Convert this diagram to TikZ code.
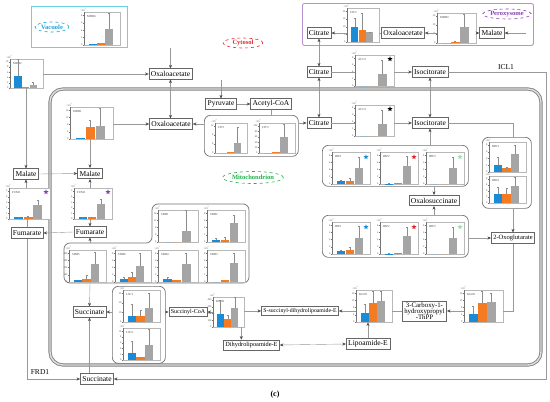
\documentclass[tikz,border=0pt]{standalone}
\usepackage{fontspec}
\setmainfont{Liberation Serif}
\usetikzlibrary{arrows.meta,calc,shapes.geometric}
\definecolor{bblue}{HTML}{1B8BD6}
\definecolor{borange}{HTML}{F47B22}
\definecolor{bgray}{HTML}{A5A5A5}
\definecolor{vacc}{HTML}{6CCFEA}
\definecolor{vact}{HTML}{1AA3D6}
\definecolor{perc}{HTML}{B792D2}
\definecolor{pert}{HTML}{8A3FB3}
\definecolor{cytt}{HTML}{E8262A}
\definecolor{mitt}{HTML}{1FB34A}
\newcommand{\myfs}[1]{\fontsize{#1}{#1}\selectfont}
\tikzset{
  met/.style={draw=black!60, fill=white, line width=0.55pt, inner xsep=2pt, inner ysep=1pt, minimum height=10.5pt, font=\myfs{7.5}},
  conn/.style={draw=black!40, line width=0.4pt},
  arr/.style={conn, -{Stealth[length=3.6pt,width=3pt,color=black!70]}},
  darr/.style={conn, {Stealth[length=3.6pt,width=3pt,color=black!70]}-{Stealth[length=3.6pt,width=3pt,color=black!70]}},
  grp/.style={draw=black!55, line width=0.7pt, rounded corners=6pt, inner sep=0},
  chartframe/.style={draw=black!28, fill=white, line width=0.35pt, inner sep=0},
  axisline/.style={draw=black!55, line width=0.25pt},
  ticklab/.style={font=\myfs{2.6}, inner sep=0.3pt, text=black!70},
  chartlab/.style={font=\myfs{3}, inner sep=0, text=black!75},
  cmp/.style={ellipse, dashed, line width=0.6pt, inner sep=0.5pt, font=\bfseries\myfs{6.5}},
  starn/.style={star, star points=5, star point ratio=2.4, inner sep=0, minimum size=5.5pt},
}
% name, x, y (top-left of plot), w, h, label, bars b/e list, tick labels, intervals
\newcommand{\mychart}[9]{%
  \node[chartframe, minimum width=#4pt, minimum height=#5pt, anchor=north west] (#1) at (#2,#3) {};
  \begin{scope}[shift={(#2,{#3+#5})}]
    \draw[axisline] (0,0) -- (0,{-#5});
    \foreach \t [count=\j] in {#8} {
      \pgfmathsetmacro\ty{-(\j-1)/#9*0.9*#5}
      \draw[axisline] (0,\ty) -- (-1,\ty);
      \node[ticklab, anchor=east] (#1t\j) at (-1,\ty) {\t};
    }
    \node[ticklab, anchor=south west] (#1x) at (-4,{-#5-0.3}) {×10\textsuperscript{3}};
    \node[chartlab, anchor=north west] (#1l) at (3,{-#5+3}) {#6};
    \foreach \b/\e [count=\i] in {#7} {
      \pgfmathsetmacro\xl{(0.13+0.232*(\i-1))*#4}
      \pgfmathsetmacro\xr{\xl+0.222*#4}
      \pgfmathsetmacro\xm{\xl+0.111*#4}
      \ifcase\i\or\def\bc{bblue}\or\def\bc{borange}\else\def\bc{bgray}\fi
      \fill[\bc] (\xl,0) rectangle (\xr,{-\b*#5});
      \pgfmathtruncatemacro\hasE{\e>\b+0.001}
      \ifnum\hasE=1
        \draw[black!45, line width=0.3pt] (\xm,{-\b*#5}) -- (\xm,{-\e*#5}) ++(-1,0) -- ++(2,0);
      \fi
    }
  \end{scope}
}
\begin{document}
\begin{tikzpicture}[x=1pt,y=-1pt]
\useasboundingbox (0,0) rectangle (550,402);
\fill[white] (0,0) rectangle (550,402);

% compartments
\node[draw=vacc, line width=1pt, minimum width=96pt, minimum height=41pt, anchor=north west, inner sep=0] (vacbox) at (31,6) {};
\node[draw=perc, line width=0.9pt, rounded corners=2pt, minimum width=231pt, minimum height=42pt, anchor=north west, inner sep=0] (perbox) at (302,3) {};
\draw[draw=black!50, line width=0.9pt, double=black!12, double distance=1.4pt, rounded corners=13pt] (50,89) rectangle (541,365);

\node[cmp, draw=vact, text=vact, minimum width=34pt, minimum height=10pt] (vacl) at (52,27) {Vacuole};
\node[cmp, draw=cytt, text=cytt, minimum width=40pt, minimum height=10pt] (cytl) at (243,43) {Cytosol};
\node[cmp, draw=pert, text=pert, minimum width=47pt, minimum height=10pt] (perl) at (507,14) {Peroxysome};
\node[cmp, draw=mitt, text=mitt, minimum width=60pt, minimum height=12pt] (mitl) at (253,177.5) {Mitochondrion};

% groups
\node[grp, minimum width=94pt, minimum height=41pt, anchor=north west] (citg) at (204,115) {};
\node[grp, minimum width=53pt, minimum height=77pt, anchor=north west] (lscg) at (112,286) {};
\node[grp, minimum width=146pt, minimum height=41pt, anchor=north west] (idp1g) at (322,145) {};
\node[grp, minimum width=146pt, minimum height=42pt, anchor=north west] (idp2g) at (322,215) {};
\node[grp, minimum width=49pt, minimum height=71pt, anchor=north west] (idhg) at (482,137) {};
\draw[grp] (152,243) -- (152,204) -- (249,204) -- (249,283) -- (64,283) -- (64,243) -- cycle;
\coordinate (sdhTop) at (90,243);
\coordinate (sdhBot) at (90,283);

% charts
\mychart{mdh4}{84}{12}{36}{33}{MDH4}{0.02/0,0.06/0,0.5/0.97}{0,2,4,6,8}{4}
\mychart{mdh2}{10}{59}{33}{29}{MDH2}{0.4/1.0,0.05/0,0.12/0.2}{0,2,4,6,8,10}{5}
\mychart{cit2}{347}{8}{32}{34}{CIT2}{0.45/0.7,0.36/0.85,0.28/0.3}{0,5,10,15,20}{4}
\mychart{mdh3}{437}{13}{39}{30}{MDH3}{0/0,0.03/0.07,0.55/0.95}{0,10,20,30}{3}
\mychart{aco1c}{355}{55}{39}{31}{ACO1}{0/0,0/0,0.38/0.85}{0,2,4,6,8}{4}
\mychart{aco1m}{355}{105}{39}{31}{ACO1}{0/0,0/0,0.4/0.85}{0,2,4,6,8}{4}
\mychart{mdh1}{70}{107}{43}{32}{MDH1}{0.03/0,0.37/0.6,0.42/0.95}{0,4,8,12,16}{4}
\mychart{cit1}{215}{123}{32}{30}{CIT1}{0/0,0.02/0,0.35/0.85}{0,4,8,12}{3}
\mychart{cit3}{259}{123}{36}{30}{CIT3}{0/0,0.04/0,0.55/0.95}{0,20,40,60,80,100}{5}
\mychart{fum1L}{9}{188}{41}{31}{FUM1}{0.05/0.07,0.06/0.08,0.45/0.6}{0,1,2,3,4,5}{5}
\mychart{fum1M}{74}{188}{38}{31}{FUM1}{0.05/0.07,0.05/0.07,0.5/0.65}{0,1,2,3,4,5}{5}
\mychart{sdh1}{158}{210}{40}{32}{SDH1}{0/0,0/0,0.35/1.0}{0,4,8,12,16}{4}
\mychart{sdh2}{207}{210}{38}{32}{SDH2}{0.06/0.12,0.07/0.14,0.6/0.85}{0,2,4,6,8}{4}
\mychart{sdh5}{69}{250}{37}{32}{SDH5}{0.07/0,0.09/0.22,0.55/0.92}{0,100,200,300,400}{4}
\mychart{sdh6}{115}{250}{36}{32}{SDH6}{0.1/0.15,0.15/0.3,0.5/0.9}{0,2,4,6,8}{4}
\mychart{sdh4}{158}{250}{40}{32}{SDH4}{0.1/0.15,0.05/0,0.55/0.9}{0,2,4,6,8}{4}
\mychart{sdh3}{207}{250}{38}{32}{SDH3}{0/0,0.05/0,0.58/0.9}{0,2,4,6,8}{4}
\mychart{lsc1}{123}{290}{37}{32}{LSC1}{0.2/0.55,0.2/0.38,0.45/0.9}{0,10,20,30}{3}
\mychart{lsc2}{123}{328}{37}{32}{LSC2}{0.22/0.6,0.08/0.1,0.48/0.95}{0,2,4,6,8,10}{5}
\mychart{kgd2}{213}{297}{31}{30}{KGD2}{0.42/0.9,0.27/0.4,0.62/1.0}{0,100,200,300,400}{4}
\mychart{kgd1L}{356}{290}{36}{32}{KGD1}{0.28/0.55,0.6/0.95,0.66/0.95}{0,4,8,12,16}{4}
\mychart{kgd1R}{464}{290}{39}{32}{KGD1}{0.25/0.5,0.58/0.95,0.64/0.9}{0,4,8,12,16}{4}
\mychart{idp1a}{332}{152}{38}{32}{IDP1}{0.08/0.12,0.1/0.18,0.5/0.85}{0,2,4,6,8}{4}
\mychart{idp2a}{380}{152}{38}{32}{IDP2}{0.01/0.02,0.02/0.04,0.55/0.88}{0,2,4,6,8}{4}
\mychart{idp3a}{426}{152}{38}{32}{IDP3}{0/0,0/0,0.5/0.85}{0,2,4,6,8}{4}
\mychart{idp1b}{332}{222}{38}{32}{IDP1}{0.08/0.12,0.12/0.2,0.5/0.88}{0,2,4,6,8}{4}
\mychart{idp2b}{380}{222}{38}{32}{IDP2}{0.01/0.02,0.02/0.04,0.55/0.85}{0,2,4,6,8}{4}
\mychart{idp3b}{426}{222}{38}{32}{IDP3}{0/0,0/0,0.5/0.85}{0,2,4,6,8}{4}
\mychart{idh1}{489}{142}{37}{30}{IDH1}{0.22/0.5,0.12/0.15,0.6/0.9}{0,2,4,6,8}{4}
\mychart{idh2}{489}{176}{37}{27}{IDH2}{0.35/0.6,0.35/0.55,0.62/0.95}{0,2,4,6,8}{4}

% stars
\node[starn, fill=black] (s1) at (390,59) {};
\node[starn, fill=black] (s2) at (390,109) {};
\node[starn, fill=pert] (s3) at (46,192) {};
\node[starn, fill=pert] (s4) at (108,192) {};
\node[starn, fill=bblue] (s5) at (366,157) {};
\node[starn, fill=cytt] (s6) at (414,157) {};
\node[starn, fill=mitt!45] (s7) at (460,157) {};
\node[starn, fill=bblue] (s8) at (366,227) {};
\node[starn, fill=cytt] (s9) at (414,227) {};
\node[starn, fill=mitt!45] (s10) at (460,227) {};

% metabolites
\node[met] (oxaC) at (170.5,74) {Oxaloacetate};
\node[met] (citC) at (319,72) {Citrate};
\node[met] (isoC) at (430,72) {Isocitorate};
\node[met] (malL) at (26,174) {Malate};
\node[met] (fumL) at (27,233) {Fumarate};
\node[met] (sucB) at (97,379) {Succinate};
\node[met] (citP) at (319,33) {Citrate};
\node[met] (oxaP) at (403,33) {Oxaloacetate};
\node[met] (malP) at (492,33) {Malate};
\node[met] (pyr) at (221,104) {Pyruvate};
\node[met] (acc) at (271,104) {Acetyl-CoA};
\node[met] (oxaM) at (171,124) {Oxaloacetate};
\node[met] (citM) at (319,123) {Citrate};
\node[met] (isoM) at (430,123) {Isocitorate};
\node[met] (malM) at (90,173.5) {Malate};
\node[met] (fumM) at (90,232) {Fumarate};
\node[met] (sucM) at (89.5,312) {Succinate};
\node[met, font=\myfs{6}, minimum height=9.5pt] (scoa) at (188,312) {Succinyl-CoA};
\node[met, font=\myfs{5.8}, minimum height=9pt] (ssd) at (300,311) {S-succinyl-dihydrolipoamide-E};
\node[met, font=\myfs{6.3}, minimum height=10pt] (dhl) at (251.5,345) {Dihydrolipoamide-E};
\node[met] (lip) at (368,344) {Lipoamide-E};
\node[met, font=\myfs{6.8}, align=center, inner ysep=2pt] (cbx) at (424.5,311) {3-Carboxy-1-\\[-1pt]hydroxypropyl\\[-1pt]-ThPP};
\node[met] (oxs) at (434,200.5) {Oxalosuccinate};
\node[met, font=\myfs{6.5}] (ogl) at (513,238) {2-Oxoglutarate};

% free ends
\coordinate (inO) at (170.5,48);
\coordinate (inP) at (221,80);
\coordinate (inM) at (526,33);
\coordinate (iclTR) at (546,72);
\coordinate (iclBR) at (546,379);

% connectors
\draw[arr] (inO) -- (oxaC.north);
\draw[arr] (mdh2.east |- oxaC.west) -- (oxaC.west);
\draw[darr] (oxaC.south) -- (oxaC.south |- oxaM.north);
\draw[arr] (mdh1.east |- oxaM.west) -- (oxaM.west);
\draw[arr] (mdh2.south -| malL.north) -- (malL.north);
\draw[arr] (mdh1.south -| malM.north) -- (malM.north);
\draw[arr] (malL.east) -- (malM.west);
\draw[arr] (fum1L.north -| malL.south) -- (malL.south);
\draw[arr] (fum1M.north -| malM.south) -- (malM.south);
\draw[conn] (fumL.north) -- (fumL.north |- fum1L.south);
\draw[arr] (fumM.north |- fum1M.south) -- (fumM.north);
\draw[arr] (fumM.west) -- (fumL.east);
\draw[arr] (sdhTop) -- (fumM.south);
\draw[arr] (sdhBot) -- (sucM.north);
\draw[arr] (fumL.south) |- (sucB.west);
\draw[arr] (sucM.south |- sucB.north) -- (sucM.south);
\draw[arr] (lscg.west |- sucM.east) -- (sucM.east);
\draw[arr] (lscg.east |- scoa.west) -- (scoa.west);
\draw[arr] (kgd2.west |- scoa.east) -- (scoa.east);
\draw[arr] (kgd2.east |- ssd.west) -- (ssd.west);
\draw[arr] ([xshift=-3pt]kgd2.south east) -- ([xshift=-3pt]kgd2.south east |- dhl.north);
\draw[darr] (lip.west) -- (dhl.east);
\draw[arr] (lip.north) -- (lip.north |- kgd1L.south);
\draw[arr] (kgd1L.west |- ssd.east) -- (ssd.east);
\draw[conn] (kgd1L.east |- cbx.west) -- (cbx.west);
\draw[arr] (kgd1R.west |- cbx.east) -- (cbx.east);
\draw[conn] (kgd1R.east |- cbx.east) -| (ogl.south);
\draw[arr] (idp2g.east |- ogl.west) -- (ogl.west);
\draw[arr] (ogl.north |- idhg.south) -- (ogl.north);
\draw[conn] (isoM.east) -| (ogl.north |- idhg.north);
\draw[arr] (isoM.south |- idp1g.north) -- (isoM.south);
\draw[arr] (oxs.north |- idp1g.south) -- (oxs.north);
\draw[arr] (oxs.south |- idp2g.north) -- (oxs.south);
\draw[darr] (citP.south) -- (citC.north);
\draw[darr] (citC.south) -- (citM.north);
\draw[darr] (isoC.south) -- (isoM.north);
\draw[conn] (citC.east) -- (aco1c.west |- citC.east);
\draw[arr] (aco1c.east |- isoC.west) -- (isoC.west);
\draw[conn] (citM.east) -- (aco1m.west |- citM.east);
\draw[arr] (aco1m.east |- isoM.west) -- (isoM.west);
\draw[arr] (cit2.west |- citP.east) -- (citP.east);
\draw[conn] (oxaP.west) -- (cit2.east |- oxaP.west);
\draw[arr] (mdh3.west |- oxaP.east) -- (oxaP.east);
\draw[arr] (mdh3.east |- malP.west) -- (malP.west);
\draw[arr] (inM) -- (malP.east);
\draw[arr] (isoC.east) -- (iclTR) -- (iclBR) -- (sucB.east);
\draw[arr] (inP) -- (pyr.north);
\draw[arr] (pyr.east) -- (acc.west);
\draw[conn] (acc.south) -- (acc.south |- citg.north);
\draw[arr] (citg.west |- oxaM.east) -- (oxaM.east);
\draw[arr] (citg.east |- citM.west) -- (citM.west);

% labels
\node[font=\myfs{7.5}] (icl) at (506,67) {ICL1};
\node[font=\myfs{7.5}] (frd) at (40,372) {FRD1};
\node[font=\bfseries\myfs{8}] (cap) at (275,395) {(c)};
\end{tikzpicture}
\end{document}
